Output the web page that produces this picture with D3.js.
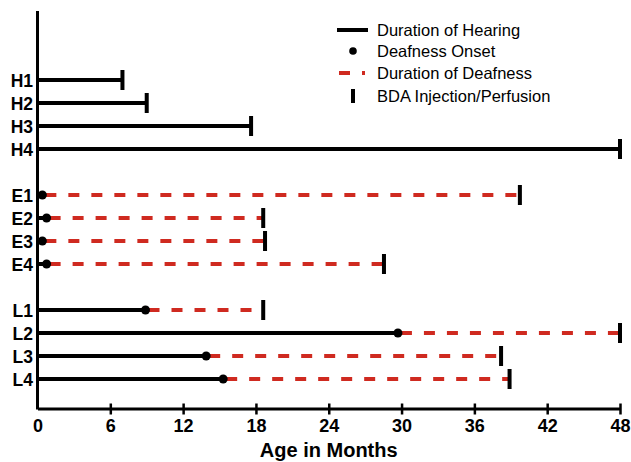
<!DOCTYPE html>
<html>
<head>
<meta charset="utf-8">
<script src="https://cdn.jsdelivr.net/npm/d3@7"></script>
<style>
  html, body { margin: 0; padding: 0; background: #fff; }
  svg { display: block; font-family: Arial, "Liberation Sans", Helvetica, sans-serif; }
</style>
</head>
<body>
<svg id="chart" width="631" height="462"></svg>
<script>
// Animals, grouped: H = hearing controls, E = early deafened, L = late deafened
const animals = ["H1", "H2", "H3", "H4", "E1", "E2", "E3", "E4", "L1", "L2", "L3", "L4"];
const groups  = ["H", "H", "H", "H", "E", "E", "E", "E", "L", "L", "L", "L"];
// Age (months) at deafness onset; null = never deafened
const onsetAge = [null, null, null, null, 0.4, 0.75, 0.4, 0.75, 8.9, 29.7, 13.9, 15.3];
// Age (months) at BDA injection / perfusion
const endAge = [7, 9, 17.6, 48, 39.75, 18.6, 18.75, 28.55, 18.6, 48, 38.2, 38.9];
// Axis ticks (months)
const xTicks = [0, 6, 12, 18, 24, 30, 36, 42, 48];
const legendItems = ["Duration of Hearing", "Deafness Onset", "Duration of Deafness", "BDA Injection/Perfusion"];

const RED = "#cf2a20";
const svg = d3.select("#chart");

const x = d3.scaleLinear().domain([0, 48]).range([37.5, 620]);
// each group is separated from the previous one by an empty row
const groupOrder = ["H", "E", "L"];
const slot = i => i + groupOrder.indexOf(groups[i]);
const y = d3.scaleLinear().domain([0, 13]).range([80, 379]);

const rows = animals.map((name, i) => ({
  name, group: groups[i], onset: onsetAge[i], end: endAge[i], y: y(slot(i))
}));

// y axis line (no ticks)
svg.append("line")
  .attr("x1", x(0)).attr("x2", x(0))
  .attr("y1", 11).attr("y2", 409.5)
  .attr("stroke", "#000").attr("stroke-width", 3);

// x axis
const axisY = 408.5;
const gx = svg.append("g")
  .attr("transform", `translate(0,${axisY})`)
  .call(d3.axisBottom(x).tickValues(xTicks).tickSizeInner(6).tickSizeOuter(0).tickPadding(5));
gx.select(".domain").attr("stroke", "#000").attr("stroke-width", 3);
gx.selectAll(".tick line")
  .attr("y1", -5).attr("y2", 6)
  .attr("stroke", "#000").attr("stroke-width", 2.5)
  .attr("display", d => d === 0 ? "none" : null);
gx.selectAll(".tick text")
  .attr("font-size", 18).attr("font-weight", "bold").attr("fill", "#000")
  .attr("font-family", "Arial, 'Liberation Sans', sans-serif");

svg.append("text")
  .attr("x", x(24)).attr("y", 457)
  .attr("text-anchor", "middle")
  .attr("font-size", 20).attr("font-weight", "bold")
  .text("Age in Months");

// row labels
svg.selectAll("text.row-label")
  .data(rows).join("text")
  .attr("class", "row-label")
  .attr("x", 33).attr("y", d => d.y + 6.5)
  .attr("text-anchor", "end")
  .attr("font-size", 17.5).attr("font-weight", "bold")
  .text(d => d.name);

// hearing period: birth to onset (or to perfusion if never deafened)
svg.selectAll("line.hearing")
  .data(rows).join("line")
  .attr("class", "hearing")
  .attr("x1", x(0))
  .attr("x2", d => x(d.onset == null ? d.end : d.onset))
  .attr("y1", d => d.y).attr("y2", d => d.y)
  .attr("stroke", "#000").attr("stroke-width", 4);

// deafness period: onset to perfusion
const deaf = rows.filter(d => d.onset != null);
svg.selectAll("line.deaf")
  .data(deaf).join("line")
  .attr("class", "deaf")
  .attr("x1", d => x(d.onset) + 3)
  .attr("x2", d => x(d.end))
  .attr("y1", d => d.y).attr("y2", d => d.y)
  .attr("stroke", RED).attr("stroke-width", 4)
  .attr("stroke-dasharray", "11,12");

// onset markers
svg.selectAll("circle.onset")
  .data(deaf).join("circle")
  .attr("class", "onset")
  .attr("cx", d => x(d.onset)).attr("cy", d => d.y)
  .attr("r", 4.5).attr("fill", "#000");

// injection / perfusion markers
svg.selectAll("rect.end")
  .data(rows).join("rect")
  .attr("class", "end")
  .attr("x", d => x(d.end) - 2).attr("y", d => d.y - 10)
  .attr("width", 4).attr("height", 20)
  .attr("fill", "#000");

// legend
const lg = svg.append("g");
const ly = [30, 51, 73, 96];
lg.append("line").attr("x1", 337).attr("x2", 368).attr("y1", ly[0]).attr("y2", ly[0])
  .attr("stroke", "#000").attr("stroke-width", 4);
lg.append("circle").attr("cx", 353).attr("cy", ly[1]).attr("r", 3.8).attr("fill", "#000");
lg.append("line").attr("x1", 339).attr("x2", 365).attr("y1", ly[2]).attr("y2", ly[2])
  .attr("stroke", RED).attr("stroke-width", 4).attr("stroke-dasharray", "11,12");
lg.append("rect").attr("x", 351).attr("y", ly[3] - 7).attr("width", 4).attr("height", 14).attr("fill", "#000");
lg.selectAll("text.leg")
  .data(legendItems).join("text")
  .attr("class", "leg")
  .attr("x", 377).attr("y", (d, i) => ly[i] + 5.5)
  .attr("font-size", 16.5)
  .text(d => d);
</script>
</body>
</html>
